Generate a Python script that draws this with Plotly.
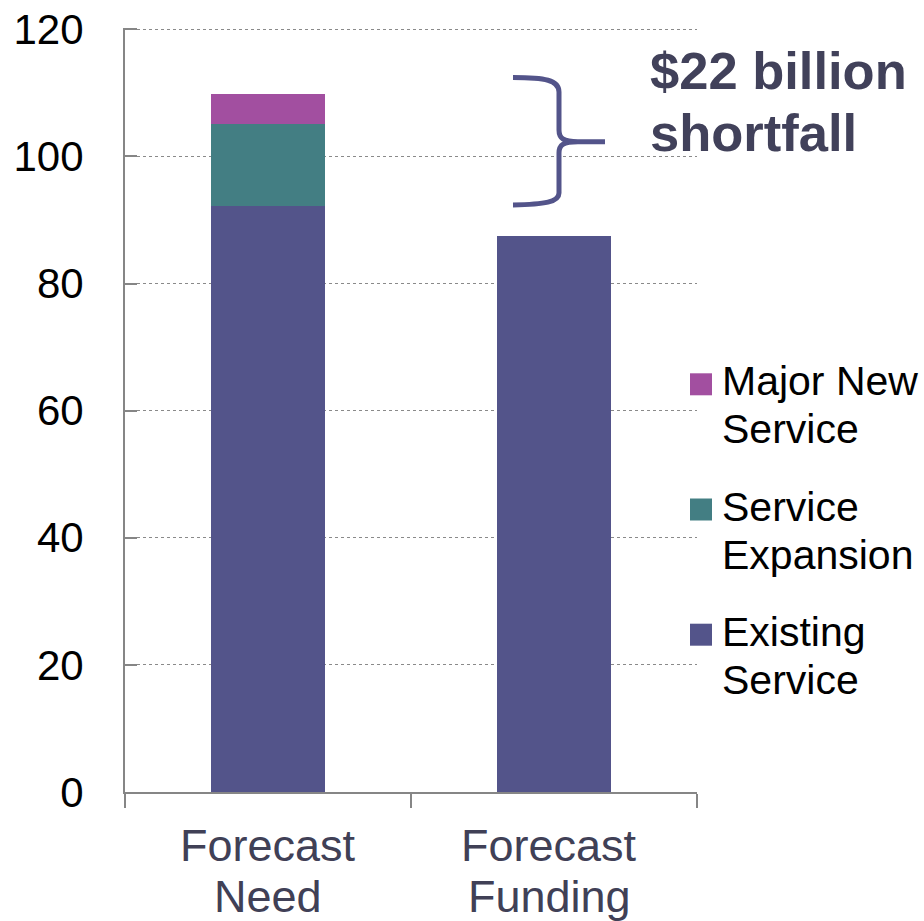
import plotly.graph_objects as go

# ---- data -------------------------------------------------------------
categories = ["Forecast Need", "Forecast Funding"]
existing_service = [92.2, 87.5]
service_expansion = [12.9, 0.0]
major_new_service = [4.7, 0.0]

series_names = ["Existing Service", "Service Expansion", "Major New Service"]
series_lines = [["Existing", "Service"], ["Service", "Expansion"], ["Major New", "Service"]]
series_colors = ["#53548A", "#437E83", "#A24FA0"]

y_ticks = [0, 20, 40, 60, 80, 100, 120]

need_total = existing_service[0] + service_expansion[0] + major_new_service[0]
funding_total = existing_service[1]
shortfall = need_total - funding_total

# ---- geometry of the plot area (pixels) -------------------------------
W, H = 924, 921
Y_MAX = 120.2  # a hair above the top tick so its grid line is kept
PL, PR, PT, PB = 125, 697, 28, 792
FONT = "Arial, Liberation Sans, sans-serif"
AXIS_GREY = "#868686"
SLATE = "#404056"
LABEL_XSHIFT = [0, -5]


def paper_x(px):
    return (px - PL) / (PR - PL)


def paper_y(py):
    return (PB - py) / (PB - PT)


fig = go.Figure()
for vals, name, color in zip(
    [existing_service, service_expansion, major_new_service], series_names, series_colors
):
    fig.add_trace(
        go.Bar(
            x=categories,
            y=vals,
            name=name,
            marker=dict(color=color, line=dict(width=0)),
            showlegend=False,
        )
    )

annotations = []

# category labels, one annotation per line
for cat, dx in zip(categories, LABEL_XSHIFT):
    lines = cat.split(" ", 1)
    for i, line in enumerate(lines):
        annotations.append(
            dict(
                x=cat, xref="x", y=paper_y(845.1 + 51.6 * i), yref="paper",
                xshift=dx,
                text=line, showarrow=False, xanchor="center", yanchor="middle",
                font=dict(family=FONT, size=45, color=SLATE),
            )
        )

# legend (top to bottom: last series first)
shapes = []
for k, idx in enumerate(reversed(range(len(series_names)))):
    top = 373.3 + 125.2 * k
    shapes.append(
        dict(
            type="rect", xref="paper", yref="paper",
            x0=paper_x(690), x1=paper_x(712), y0=paper_y(top), y1=paper_y(top + 22),
            fillcolor=series_colors[idx], line=dict(width=0),
        )
    )
    for i, line in enumerate(series_lines[idx]):
        annotations.append(
            dict(
                x=paper_x(720), xref="paper", y=paper_y(top + 8.0 + 48 * i), yref="paper",
                text=line, showarrow=False, xanchor="left", yanchor="middle",
                font=dict(family=FONT, size=41, color="#000000"),
            )
        )

# shortfall callout
for i, line in enumerate([f"${round(shortfall)} billion", "shortfall"]):
    annotations.append(
        dict(
            x=paper_x(648), xref="paper", y=paper_y(71 + 61.7 * i), yref="paper",
            text=f"<b>{line}</b>", showarrow=False, xanchor="left", yanchor="middle",
            font=dict(family=FONT, size=52.5, color="#41415A"),
        )
    )

# curly brace next to the callout
brace_pts = [
    ("M", [(513, 77.5)]),
    ("C", [(545, 77.5), (559, 80), (559, 92)]),
    ("L", [(559, 130)]),
    ("C", [(559, 138), (563, 141.7), (578, 141.7)]),
    ("L", [(605, 141.7)]),
    ("M", [(578, 141.7)]),
    ("C", [(563, 141.7), (559, 145), (559, 153)]),
    ("L", [(559, 193)]),
    ("C", [(559, 202), (545, 204.5), (513, 205)]),
]
path = ""
for cmd, pts in brace_pts:
    path += cmd + " ".join(f"{paper_x(x):.5f},{paper_y(y):.5f}" for x, y in pts) + " "
shapes.append(
    dict(type="path", xref="paper", yref="paper", path=path.strip(),
         line=dict(color="#53548A", width=5))
)

fig.update_layout(
    width=W, height=H,
    margin=dict(l=PL, r=W - PR, t=PT, b=H - PB, pad=0, autoexpand=False),
    barmode="stack",
    bargap=0.6,
    plot_bgcolor="white",
    paper_bgcolor="white",
    font=dict(family=FONT),
    annotations=annotations,
    shapes=shapes,
)
fig.update_xaxes(
    automargin=False,
    showticklabels=False,
    showline=True, linecolor=AXIS_GREY, linewidth=2,
    ticks="outside", tickson="boundaries", ticklen=14, tickwidth=2, tickcolor=AXIS_GREY,
    showgrid=False, zeroline=False,
)
fig.update_yaxes(
    automargin=False,
    range=[0, Y_MAX], tickvals=y_ticks,
    tickfont=dict(family=FONT, size=42, color="#000000"),
    showline=True, linecolor=AXIS_GREY, linewidth=2,
    ticks="inside", ticklen=12, tickwidth=2, tickcolor=AXIS_GREY,
    ticklabelstandoff=31,
    showgrid=True, gridcolor="#8A8A8A", gridwidth=1, griddash="dot",
    zeroline=False,
)

fig.write_html("out.html")
